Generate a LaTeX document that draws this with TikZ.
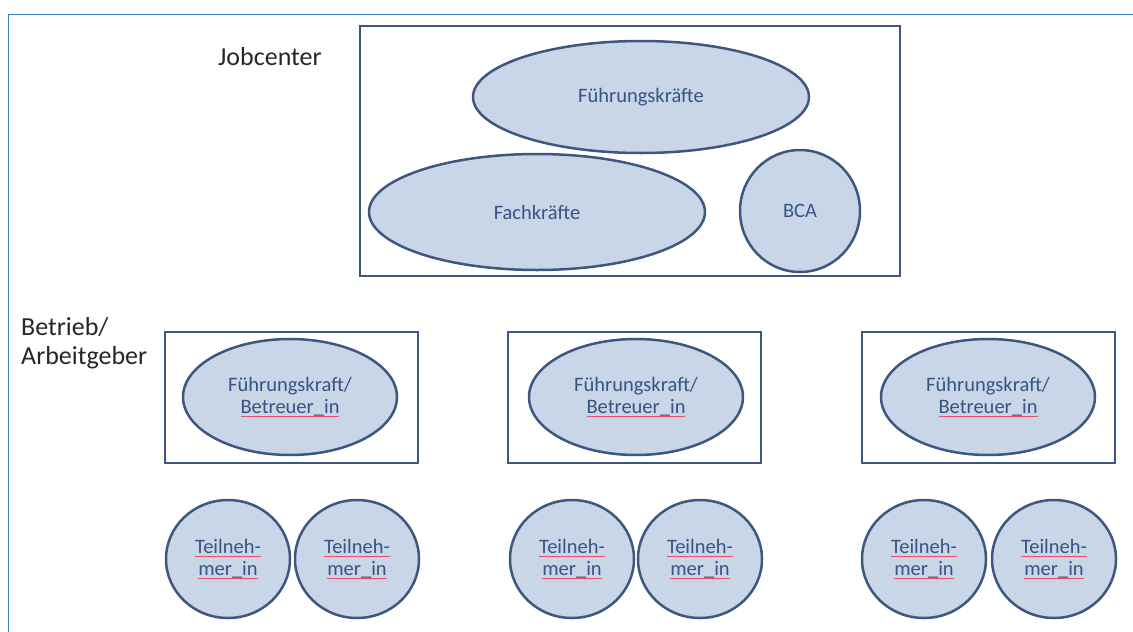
\documentclass[tikz,border=0pt]{standalone}
\usepackage{fontspec}
\setmainfont{Carlito}
\definecolor{frameblue}{HTML}{3A7FBF}
\definecolor{shapeedge}{HTML}{3E5680}
\definecolor{shapefill}{HTML}{C9D6E7}
\definecolor{labelblue}{HTML}{375486}
\definecolor{spellred}{HTML}{E8506A}
\newsavebox\spellbox
\newcommand\spellmark[1]{\sbox\spellbox{#1}\rlap{\color{spellred}\rule[-3.6pt]{\wd\spellbox}{1.3pt}}\usebox\spellbox}
\usetikzlibrary{shapes.geometric}
\tikzset{
  outerframe/.style={draw=frameblue, line width=1.3pt},
  groupbox/.style={draw=shapeedge, line width=2.6pt},
  blob/.style={ellipse, draw=shapeedge, line width=2.5pt, fill=shapefill,
    text=labelblue, font=\fontsize{20.5}{22}\selectfont, align=center, inner sep=0pt},
  grouplabel/.style={text=black!85, font=\fontsize{26}{29}\selectfont, align=left, inner sep=0pt}
}
\begin{document}
\begin{tikzpicture}[x=1pt,y=-1pt]
\useasboundingbox (0,0) rectangle (1133,632);
% outer frame (cropped)
\coordinate (fbl) at (8.5,632);
\coordinate (ftl) at (8.5,14.5);
\coordinate (ftr) at (1133,14.5);
\draw[outerframe] (fbl) -- (ftl) -- (ftr);

% Jobcenter
\node[grouplabel, anchor=base west] (jclabel) at (218,65) {Jobcenter};
\draw[groupbox] (360,26) rectangle (900,276);
\node[blob, minimum width=336pt, minimum height=112pt] (fuehrung) at (641,97) {Führungskräfte};
\node[blob, minimum width=336pt, minimum height=116pt] (fach) at (537,212) {Fachkräfte};
\node[blob, minimum width=120pt, minimum height=122pt] (bca) at (800,211) {BCA};

% Betrieb / Arbeitgeber
\node[grouplabel, anchor=base west] (betrlabel) at (21,364) {Betrieb/\\Arbeitgeber};

\foreach \bx/\ex/\ca/\cb/\n in {165/290/228/357/1, 508/636/572/700/2, 862/988/924/1054/3}{
  \draw[groupbox] (\bx,332) rectangle (\bx+253,463);
  \node[blob, minimum width=214pt, minimum height=116pt] (fk\n) at (\ex,397)
    {Führungskraft/\\\spellmark{Betreuer\_in}};
  \node[blob, minimum width=124pt, minimum height=118pt] (ta\n) at (\ca,559)
    {\spellmark{Teilneh-}\\\spellmark{mer\_in}};
  \node[blob, minimum width=124pt, minimum height=118pt] (tb\n) at (\cb,559)
    {\spellmark{Teilneh-}\\\spellmark{mer\_in}};
}
\end{tikzpicture}
\end{document}
